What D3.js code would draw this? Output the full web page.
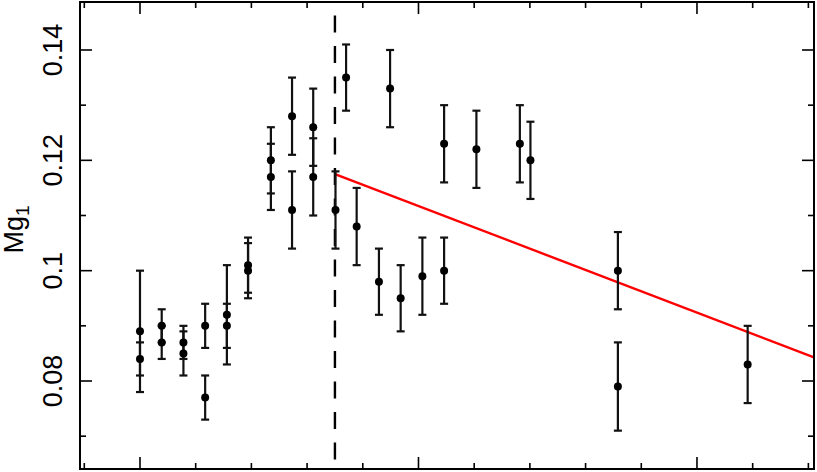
<!DOCTYPE html>
<html>
<head>
<meta charset="utf-8">
<script src="https://cdn.jsdelivr.net/npm/d3@7"></script>
<style>
  html, body { margin: 0; padding: 0; background: #fff; }
  svg { display: block; }
  text { font-family: "Liberation Sans", Arial, sans-serif; fill: #000; }
</style>
</head>
<body>
<div id="app"></div>
<script>
// data (x in arbitrary units, the x labels are cut off)
const xVals = [2.000, 2.000, 2.039, 2.039, 2.078, 2.078, 2.117, 2.117, 2.156, 2.156,
  2.194, 2.194, 2.235, 2.235, 2.273, 2.273, 2.311, 2.311, 2.351, 2.370, 2.389,
  2.429, 2.449, 2.468, 2.507, 2.546, 2.546, 2.604, 2.682, 2.701, 2.858, 2.858, 3.091];
const mgVals = [0.089, 0.084, 0.090, 0.087, 0.087, 0.085, 0.090, 0.077, 0.092, 0.090,
  0.101, 0.100, 0.120, 0.117, 0.128, 0.111, 0.126, 0.117, 0.111, 0.135, 0.108,
  0.098, 0.133, 0.095, 0.099, 0.123, 0.100, 0.122, 0.123, 0.120, 0.100, 0.079, 0.083];
const errVals = [0.011, 0.003, 0.003, 0.003, 0.003, 0.004, 0.004, 0.004, 0.009, 0.004,
  0.005, 0.005, 0.006, 0.006, 0.007, 0.007, 0.007, 0.007, 0.007, 0.006, 0.007,
  0.006, 0.007, 0.006, 0.007, 0.007, 0.006, 0.007, 0.007, 0.007, 0.007, 0.008, 0.007];

const breakX = 2.35;
const fitX = [2.35, 3.21];
const fitY = [0.1175, 0.0843];

const yMajor = [0.08, 0.10, 0.12, 0.14];
const yMajorLabels = ['0.08', '0.1', '0.12', '0.14'];
const yMinor = [0.07, 0.09, 0.11, 0.13];
const xMajor = [2.0, 2.5, 3.0];
const xMinor = [1.9, 2.1, 2.2, 2.3, 2.4, 2.6, 2.7, 2.8, 2.9, 3.1, 3.2];

const width = 817;
const height = 472;
const plotLeft = 80, plotRight = 814, plotTop = 2, plotBottom = 469;
const majorLen = 12, minorLen = 6;

const x = d3.scaleLinear().domain([1.8923, 3.2101]).range([plotLeft, plotRight]);
const y = d3.scaleLinear().domain([0.06405, 0.1487]).range([plotBottom, plotTop]);

const svg = d3.select('#app').append('svg')
  .attr('width', width)
  .attr('height', height);

const points = xVals.map((v, i) => ({ x: v, y: mgVals[i], e: errVals[i] }));

// ticks, all pointing inward on four sides
const ticks = svg.append('g').attr('stroke', '#000').attr('stroke-width', 1.6);
const addY = (vals, len) => vals.forEach(v => {
  ticks.append('line').attr('x1', plotLeft).attr('x2', plotLeft + len).attr('y1', y(v)).attr('y2', y(v));
  ticks.append('line').attr('x1', plotRight).attr('x2', plotRight - len).attr('y1', y(v)).attr('y2', y(v));
});
const addX = (vals, len) => vals.forEach(v => {
  ticks.append('line').attr('x1', x(v)).attr('x2', x(v)).attr('y1', plotBottom).attr('y2', plotBottom - len);
  ticks.append('line').attr('x1', x(v)).attr('x2', x(v)).attr('y1', plotTop).attr('y2', plotTop + len);
});
addY(yMajor, majorLen);
addY(yMinor, minorLen);
addX(xMajor, majorLen);
addX(xMinor, minorLen);

// y tick labels, rotated
svg.append('g')
  .selectAll('text')
  .data(yMajor)
  .join('text')
  .attr('transform', d => `translate(62,${y(d)}) rotate(-90)`)
  .attr('text-anchor', 'middle')
  .style('font-size', '27px')
  .text((d, i) => yMajorLabels[i]);

// axis title Mg_1
const yTitle = svg.append('text')
  .attr('transform', `translate(23,${(plotTop + plotBottom) / 2 - 6}) rotate(-90)`)
  .attr('text-anchor', 'middle')
  .style('font-size', '27px');
yTitle.append('tspan').text('Mg');
yTitle.append('tspan').attr('dy', 6).style('font-size', '19px').text('1');

// dashed break line
svg.append('line')
  .attr('x1', x(breakX)).attr('x2', x(breakX))
  .attr('y1', plotTop).attr('y2', plotBottom)
  .attr('stroke', '#000')
  .attr('stroke-width', 2.4)
  .attr('stroke-dasharray', '17 13.5')
  .attr('stroke-dashoffset', 17);

// red fit
svg.append('line')
  .attr('x1', x(fitX[0])).attr('y1', y(fitY[0]))
  .attr('x2', x(fitX[1])).attr('y2', y(fitY[1]))
  .attr('stroke', '#ff0000')
  .attr('stroke-width', 2.4);

// error bars
const bars = svg.append('g').attr('stroke', '#111').attr('stroke-width', 2.2);
points.forEach(d => {
  const cx = x(d.x);
  bars.append('line').attr('x1', cx).attr('x2', cx).attr('y1', y(d.y - d.e)).attr('y2', y(d.y + d.e));
  bars.append('line').attr('x1', cx - 4).attr('x2', cx + 4).attr('y1', y(d.y - d.e)).attr('y2', y(d.y - d.e));
  bars.append('line').attr('x1', cx - 4).attr('x2', cx + 4).attr('y1', y(d.y + d.e)).attr('y2', y(d.y + d.e));
});

// points
svg.append('g')
  .selectAll('circle')
  .data(points)
  .join('circle')
  .attr('cx', d => x(d.x))
  .attr('cy', d => y(d.y))
  .attr('r', 4)
  .attr('fill', '#000');

// frame
svg.append('rect')
  .attr('x', plotLeft).attr('y', plotTop)
  .attr('width', plotRight - plotLeft).attr('height', plotBottom - plotTop)
  .attr('fill', 'none')
  .attr('stroke', '#000')
  .attr('stroke-width', 2);
</script>
</body>
</html>
